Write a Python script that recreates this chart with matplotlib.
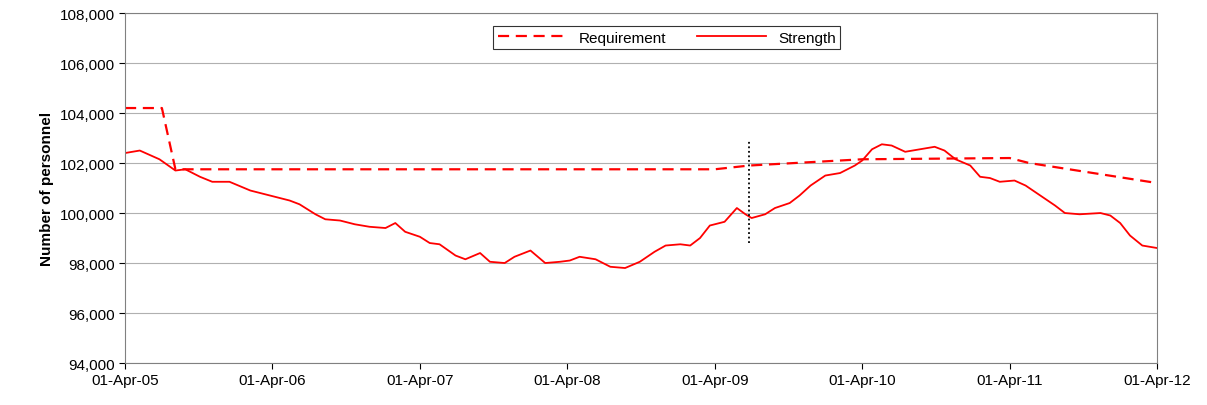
import matplotlib
matplotlib.use("Agg")
import matplotlib.pyplot as plt

plt.rcParams["font.family"] = ["Liberation Sans", "DejaVu Sans"]

# months since 01-Apr-05
strength_m = [0, 1.2, 2.8, 4.1, 4.9, 6.1, 7.1, 8.5, 10.2, 11.8, 13.4, 14.2, 15.5, 16.3, 17.5,
              18.7, 19.9, 21.2, 22.0, 22.8, 24.0, 24.8, 25.6, 26.9, 27.7, 28.9, 29.7, 30.9,
              31.7, 33.0, 34.2, 35.4, 36.2, 37.0, 38.3, 39.5, 40.7, 41.9, 43.1, 44.0, 45.2,
              46.0, 46.8, 47.6, 48.8, 49.8, 50.5, 51.0, 52.1, 52.9, 54.1, 54.9, 55.8, 57.0,
              58.2, 59.4, 60.0, 60.8, 61.6, 62.4, 63.5, 64.7, 65.9, 66.7, 67.6, 68.8, 69.6,
              70.4, 71.2, 72.4, 73.3, 74.5, 75.7, 76.5, 77.7, 79.4, 80.2, 81.0, 81.8, 82.8, 84]
strength = [102400, 102500, 102150, 101700, 101750, 101450, 101250, 101250, 100900, 100700,
            100500, 100350, 99950, 99750, 99700, 99550, 99450, 99400, 99600, 99250, 99050,
            98800, 98750, 98300, 98150, 98400, 98050, 98000, 98250, 98500, 98000, 98050,
            98100, 98250, 98150, 97850, 97800, 98050, 98450, 98700, 98750, 98700, 99000,
            99500, 99650, 100200, 99950, 99800, 99950, 100200, 100400, 100700, 101100,
            101500, 101600, 101900, 102100, 102550, 102750, 102700, 102450, 102550, 102650,
            102500, 102150, 101900, 101450, 101400, 101250, 101300, 101100, 100700, 100300,
            100000, 99950, 100000, 99900, 99600, 99100, 98700, 98600]

req_m = [0, 3.0, 4.1, 48, 50.8, 60, 72, 73.6, 84]
requirement = [104200, 104200, 101750, 101750, 101900, 102150, 102200, 102000, 101200]

marker_m = 50.8
marker_lo, marker_hi = 98800, 102900

tick_m = [0, 12, 24, 36, 48, 60, 72, 84]
tick_labels = ["01-Apr-05", "01-Apr-06", "01-Apr-07", "01-Apr-08",
               "01-Apr-09", "01-Apr-10", "01-Apr-11", "01-Apr-12"]

fig = plt.figure(figsize=(12.07, 4.06), dpi=100)
ax = fig.add_axes([0.1036, 0.1034, 0.855, 0.862])
ax.plot(req_m, requirement, color="red", lw=1.6, ls=(0, (5, 3)), label="Requirement")
ax.plot(strength_m, strength, color="red", lw=1.3, label="Strength")
ax.plot([marker_m, marker_m], [marker_lo, marker_hi], color="black", lw=1.3, ls=(0, (1, 1.5)))

ax.set_xlim(0, 84)
ax.set_ylim(94000, 108000)
ax.set_xticks(tick_m)
ax.set_xticklabels(tick_labels, fontsize=11)
ax.set_yticks(range(94000, 108001, 2000))
ax.set_yticklabels([f"{v:,}" for v in range(94000, 108001, 2000)], fontsize=11)
ax.tick_params(length=4, color="black")
ax.grid(axis="y", color="#b0b0b0", lw=0.8)
ax.set_axisbelow(True)
for s in ax.spines.values():
    s.set_color("#808080")
ax.set_ylabel("Number of personnel", fontsize=11, fontweight="bold")
leg = ax.legend(loc="upper center", bbox_to_anchor=(0.525, 0.985), ncol=2, fontsize=11,
                frameon=True, fancybox=False, edgecolor="black", handlelength=4.5,
                borderpad=0.3, columnspacing=2)
leg.get_frame().set_linewidth(0.8)
fig.savefig("out.png", dpi=100)
